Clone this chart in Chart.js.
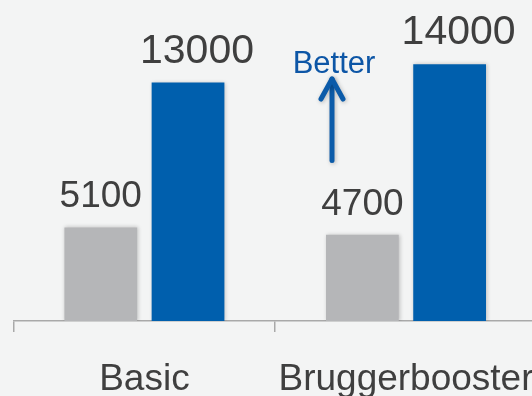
<!DOCTYPE html>
<html>
<head>
<meta charset="utf-8">
<script src="https://cdn.jsdelivr.net/npm/chart.js@4.4.1/dist/chart.umd.min.js"></script>
<style>
    html, body { margin: 0; padding: 0; background: #f3f4f4; overflow: hidden; }
    #wrap { width: 532px; height: 396px; overflow: hidden; }
    canvas { display: block; }
</style>
</head>
<body>
<div id="wrap"><canvas id="chart" width="540" height="396"></canvas></div>
<script>
// Kategorier och serier
const categories = ['Basic', 'Bruggerbooster'];
const grayValues = [5100, 4700];
const blueValues = [13000, 14000];

const textColor = '#3f3f3f';
const fontFamily = "'Liberation Sans', Arial, sans-serif";

// Värdeetiketter ovanför staplarna
const valueLabels = {
    id: 'valueLabels',
    afterDatasetsDraw(chart) {
        const ctx = chart.ctx;
        chart.data.datasets.forEach((ds, i) => {
            const meta = chart.getDatasetMeta(i);
            ctx.save();
            ctx.fillStyle = textColor;
            ctx.font = ds.labelSize + 'px ' + fontFamily;
            ctx.textAlign = 'center';
            ctx.textBaseline = 'alphabetic';
            meta.data.forEach((bar, j) => {
                ctx.fillText(String(ds.data[j]), bar.x + ds.labelShift, bar.y - 20);
            });
            ctx.restore();
        });
    }
};

// Mjuk skugga bakom staplarna
const barShadow = {
    id: 'barShadow',
    beforeDatasetsDraw(chart) {
        const ctx = chart.ctx;
        ctx.save();
        ctx.shadowColor = 'rgba(0,0,0,0.22)';
        ctx.shadowBlur = 4;
        ctx.shadowOffsetX = 1;
        ctx.shadowOffsetY = 0;
    },
    afterDatasetsDraw(chart) {
        chart.ctx.restore();
    }
};

// Pil med texten "Better"
const betterArrow = {
    id: 'betterArrow',
    afterDraw(chart) {
        const ctx = chart.ctx;
        const x = chart.scales.x.getPixelForValue(1) - 74;
        const yTop = chart.scales.y.getPixelForValue(13300);
        const yBottom = chart.scales.y.getPixelForValue(8750);
        ctx.save();
        ctx.shadowColor = 'rgba(0,0,0,0.25)';
        ctx.shadowBlur = 4;
        ctx.shadowOffsetX = 1;
        ctx.shadowOffsetY = 1;
        ctx.strokeStyle = '#0b5ba9';
        ctx.lineWidth = 5;
        ctx.lineCap = 'round';
        ctx.lineJoin = 'round';
        ctx.beginPath();
        ctx.moveTo(x, yBottom);
        ctx.lineTo(x, yTop + 2);
        ctx.stroke();
        ctx.beginPath();
        ctx.moveTo(x - 11, yTop + 22);
        ctx.lineTo(x, yTop + 2);
        ctx.lineTo(x + 11, yTop + 22);
        ctx.stroke();
        ctx.shadowColor = 'transparent';
        ctx.fillStyle = '#0d56a6';
        ctx.font = '31px ' + fontFamily;
        ctx.textAlign = 'center';
        ctx.textBaseline = 'alphabetic';
        ctx.fillText('Better', x + 2, yTop - 4);
        ctx.restore();
    }
};

new Chart(document.getElementById('chart'), {
    type: 'bar',
    data: {
        labels: categories,
        datasets: [{
            data: grayValues,
            backgroundColor: '#b5b6b8',
            labelSize: 37,
            labelShift: 0
        }, {
            data: blueValues,
            backgroundColor: '#005fad',
            labelSize: 41,
            labelShift: 9
        }]
    },
    options: {
        responsive: false,
        animation: false,
        categoryPercentage: 0.667,
        barPercentage: 0.834,
        layout: { padding: { left: 13.6, right: 3.2, top: 0, bottom: 0 } },
        plugins: {
            legend: { display: false },
            tooltip: { enabled: false }
        },
        scales: {
            x: {
                border: { display: true, color: '#a9a9a9', width: 1.5 },
                grid: {
                    offset: true,
                    drawOnChartArea: false,
                    drawTicks: true,
                    tickLength: 11,
                    color: '#a9a9a9',
                    lineWidth: 1.5
                },
                ticks: {
                    color: textColor,
                    padding: 26,
                    autoSkip: false,
                    maxRotation: 0,
                    minRotation: 0,
                    font: { family: fontFamily, size: 37 }
                },
                afterFit(scale) {
                    // fast axelhöjd, ingen extra sidmarginal för etiketterna
                    scale.height = 75;
                    scale.paddingLeft = 0;
                    scale.paddingRight = 0;
                }
            },
            y: {
                display: false,
                min: 0,
                max: 17500
            }
        }
    },
    plugins: [barShadow, valueLabels, betterArrow]
});
</script>
</body>
</html>
